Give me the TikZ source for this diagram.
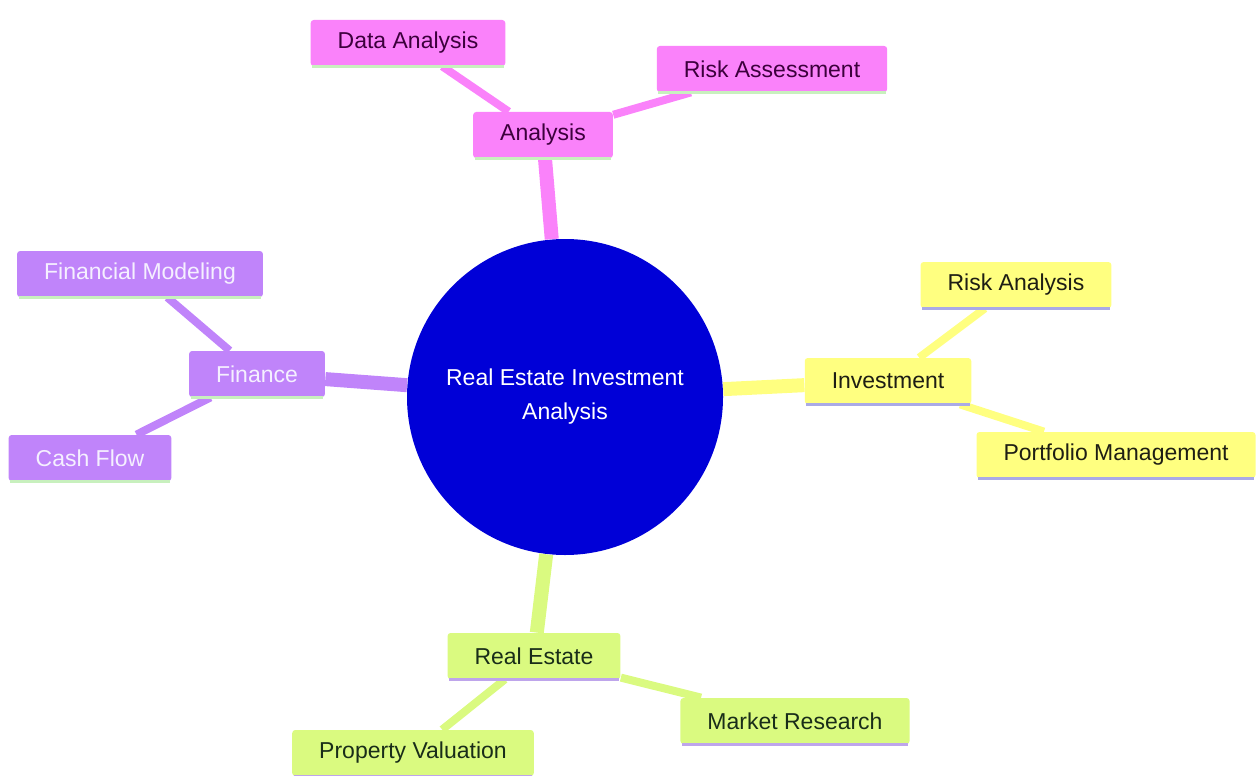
\documentclass[tikz,border=0pt]{standalone}
\usepackage{fontspec}
\setmainfont{Liberation Sans}
\usetikzlibrary{positioning,calc}
\definecolor{hub}{RGB}{0,0,215}
\definecolor{pinkA}{RGB}{250,130,250}
\definecolor{yellA}{RGB}{255,255,128}
\definecolor{purpA}{RGB}{192,132,250}
\definecolor{grnA}{RGB}{218,250,128}
\definecolor{lineG}{RGB}{200,240,190}
\definecolor{lineL}{RGB}{170,170,230}
\definecolor{lineV}{RGB}{190,165,235}

\begin{document}
\begin{tikzpicture}[x=0.5pt,y=-0.5pt,font=\fontsize{11.5}{17}\selectfont,
				box/.style={rectangle,rounded corners=1.5pt,inner xsep=13.5pt,inner ysep=0pt,minimum height=23pt},
				pinkbox/.style={box,fill=pinkA,text={rgb,255:red,60;green,0;blue,60}},
				yellbox/.style={box,fill=yellA,text={rgb,255:red,30;green,30;blue,20}},
				purpbox/.style={box,fill=purpA,text={rgb,255:red,245;green,240;blue,255}},
				grnbox/.style={box,fill=grnA,text={rgb,255:red,25;green,45;blue,25}},
				trunk/.style={line width=7pt},
				twig/.style={line width=4pt}]
				\useasboundingbox (0,0) rectangle (1256,775);
				\node (HUB) [circle,fill=hub,minimum size=158pt,inner sep=0pt,text=white,align=center,
					font=\fontsize{11.5}{17}\selectfont] at (565,397) {Real Estate Investment\\Analysis};
				
				\node (AN)  [pinkbox] at (543,135) {Analysis};
				\node (DA)  [pinkbox] at (408,43)  {Data Analysis};
				\node (RAS) [pinkbox] at (772,69)  {Risk Assessment};
				
				\node (INV) [yellbox] at (888,381)  {Investment};
				\node (RAN) [yellbox] at (1016,285) {Risk Analysis};
				\node (PM)  [yellbox] at (1116,455) {Portfolio Management};
				
				\node (FIN) [purpbox] at (257,374) {Finance};
				\node (FM)  [purpbox] at (140,274) {Financial Modeling};
				\node (CF)  [purpbox] at (90,458)  {Cash Flow};
				
				\node (RE)  [grnbox] at (534,656) {Real Estate};
				\node (MR)  [grnbox] at (795,721) {Market Research};
				\node (PV)  [grnbox] at (413,753) {Property Valuation};
				
				\draw[trunk,pinkA] (HUB) -- (AN);
				\draw[twig,pinkA]  (AN) -- (DA);
				\draw[twig,pinkA]  (AN) -- (RAS);
				\draw[trunk,yellA] (HUB) -- (INV);
				\draw[twig,yellA]  (INV) -- (RAN);
				\draw[twig,yellA]  (INV) -- (PM);
				\draw[trunk,purpA] (HUB) -- (FIN);
				\draw[twig,purpA]  (FIN) -- (FM);
				\draw[twig,purpA]  (FIN) -- (CF);
				\draw[trunk,grnA]  (HUB) -- (RE);
				\draw[twig,grnA]   (RE) -- (MR);
				\draw[twig,grnA]   (RE) -- (PV);
				
				% bottom edges of the boxes
				\foreach \n/\c in {AN/lineG,DA/lineG,RAS/lineG,FIN/lineG,FM/lineG,CF/lineG,
					INV/lineL,RAN/lineL,PM/lineL,RE/lineV,MR/lineV,PV/lineV}
					\draw[\c,line width=1.5pt] ([xshift=1pt]\n.south west) -- ([xshift=-1pt]\n.south east);
			\end{tikzpicture}
\end{document}
